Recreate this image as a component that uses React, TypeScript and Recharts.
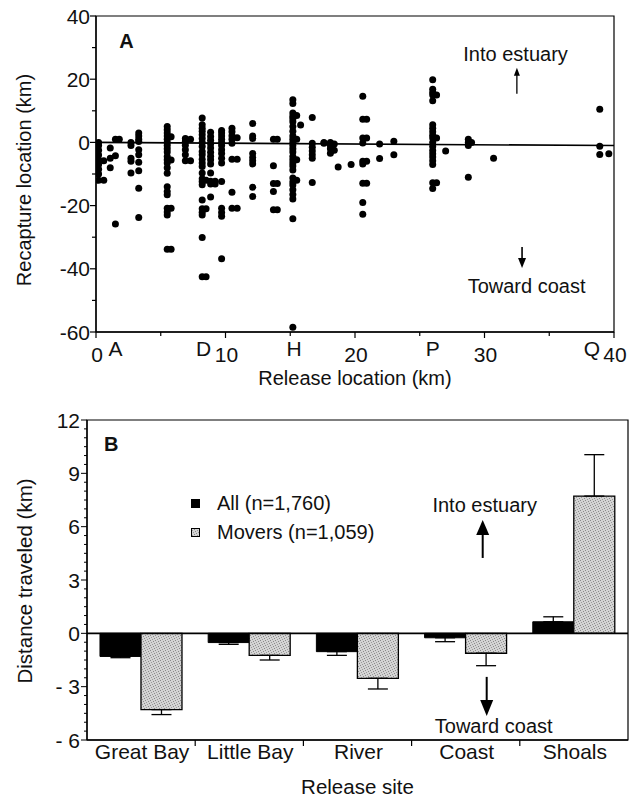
import React from 'react';
import {
  ScatterChart, Scatter, XAxis, YAxis, ReferenceLine, ReferenceArea, ReferenceDot,
  BarChart, Bar, ErrorBar, Legend,
} from 'recharts';

const FONT = '"Liberation Sans", Arial, Helvetica, sans-serif';
const INK = '#111';

// ---------- Panel A data ----------
const releaseKm = [
  0.2, 0.6, 1.1, 1.5, 1.8, 2.7, 3.3, 5.5, 5.8, 6.9, 7.3, 8.2, 8.5, 8.85, 9.2, 9.7, 10.5, 10.9,
  12.1, 13.7, 14.0, 15.2, 15.5, 15.8, 16.7, 17.6, 18.1, 18.4, 18.7, 19.7, 20.6, 20.9, 21.9, 23.0,
  26.0, 26.3, 27.0, 28.75, 29.0, 30.7, 38.9, 39.6,
];
const recaptureKm: number[][] = [
  [0, -1, -2.5, -4, -5.5, -7, -8.5, -10, -12],
  [-5.8, -12],
  [-1.8, -5, -8],
  [1, -4.2, -25.8],
  [1],
  [0, -1, -5, -6, -9.7],
  [3, 2, 1, 0.3, -2.3, -3.9, -6.3, -9, -14.5, -23.8],
  [5, 4, 3, 2, 1, 0, -1, -2, -3, -4.5, -5.5, -6.5, -8, -9.8, -14, -15.5, -16.6, -20.8, -22, -23, -33.8],
  [1.8, -5.6, -20.8, -33.8],
  [1.2, 0.3, -0.9, -2.3, -3.9, -5.8],
  [1, -5.8],
  [7.7, 5.6, 4.5, 3.5, 2.4, 1.2, 0, -1.3, -2.9, -3.9, -5.3, -6.5, -7.6, -9.7, -11.5, -12.4, -13.4, -18.2, -21, -22.1, -23, -30.1, -42.5],
  [-12, -21, -42.5],
  [3.2, 1.9, 0.7, -0.5, -1.8, -3.1, -4.4, -5.5, -6.8, -9.7, -12.3, -13.2, -17.3],
  [-12.3, -13.2],
  [3.8, 3, 2, 1, 0, -1, -2.3, -3.5, -5, -6.5, -12.4, -20.8, -22.2, -23.4, -36.8],
  [4.5, 3.4, 2.1, 1, -0.3, -5.3, -15.8, -20.8],
  [1.5, -5.3, -20.8],
  [6, 2, 1.2, -3.5, -4.8, -5.8, -6.8, -14.2, -17.1],
  [1, -7.4, -13, -15.5, -21.3],
  [1, -13, -21.3],
  [13.5, 12.3, 9.3, 8.3, 7.5, 6.5, 5, 3.5, 2, 1, 0, -1, -2, -3, -4.5, -5.5, -6.5, -7.5, -8.7, -11.3, -12.5, -13.5, -15, -16.5, -17.9, -24.2, -58.5],
  [8.5, 1, -5.5, -12],
  [5.5],
  [7.9, -0.3, -1.5, -2.7, -3.9, -5, -12.7],
  [0, -0.3],
  [0, -1, -2, -3.4],
  [-0.5, -2.5],
  [-7.8],
  [-7],
  [14.6, 7.3, 1.4, -0.2, -6, -6.8, -12.9, -19, -22.7],
  [7.3, 1.4, -6, -12.9],
  [-0.5, -5.1],
  [0.4, -3.9],
  [19.8, 16.8, 15.8, 15, 13.2, 5.6, 4.5, 3.4, 2.3, 1.4, 0, -1.3, -2.6, -3.6, -4.6, -5.8, -7, -12.8, -14.6],
  [15, 1.4, -12.8],
  [-2.7],
  [1, 0, -1, -11],
  [0],
  [-5],
  [10.5, -1.2, -3.8],
  [-3.6],
];
const xNumberTicks = [0, 10, 20, 30, 40];
const xMinorTicks = [5, 15, 25, 35];
const siteLetters = ['A', 'D', 'H', 'P', 'Q'];
const siteLetterKm = [1.5, 8.3, 15.3, 26, 38.3];
const yTicksA = [-60, -50, -40, -30, -20, -10, 0, 10, 20, 30, 40];

// ---------- Panel B data ----------
const sites = ['Great Bay', 'Little Bay', 'River', 'Coast', 'Shoals'];
const allMean = [-1.3, -0.52, -1.03, -0.25, 0.65];
const allErr = [0.07, 0.1, 0.21, 0.22, 0.28];
const moverMean = [-4.29, -1.24, -2.53, -1.12, 7.72];
const moverErr = [0.28, 0.26, 0.6, 0.7, 2.33];
const yTicksB: number[] = [];
for (let v = -6; v <= 12; v += 0.5) yTicksB.push(v);

const pointsA = releaseKm.flatMap((km, i) => recaptureKm[i].map((r) => ({ x: km, y: r })));
const xTicksA = [...xNumberTicks, ...xMinorTicks, ...siteLetterKm].sort((a, b) => a - b);
const barData = sites.map((s, i) => ({
  site: s,
  all: allMean[i],
  allErr: allErr[i],
  movers: moverMean[i],
  moverErr: moverErr[i],
}));

const txt = { fontFamily: FONT, fill: INK } as const;
const TICK_FS = 21;

function XTickA(props: any) {
  const { x, y, payload } = props;
  const v = payload.value;
  const li = siteLetterKm.indexOf(v);
  if (li >= 0) {
    return (
      <text x={x} y={y + 24} textAnchor="middle" fontSize={TICK_FS} {...txt}>{siteLetters[li]}</text>
    );
  }
  const major = xNumberTicks.includes(v);
  return (
    <g>
      <line x1={x} x2={x} y1={y} y2={y + (major ? 6 : 4)} stroke="#000" strokeWidth={1.2} />
      {major && (
        <text x={x + 1} y={y + 30} textAnchor="middle" fontSize={TICK_FS} {...txt}>{v}</text>
      )}
    </g>
  );
}

function YTickA(props: any) {
  const { x, y, payload } = props;
  const v = payload.value;
  const major = v % 20 === 0;
  return (
    <g>
      <line x1={x - (major ? 6 : 4)} x2={x} y1={y} y2={y} stroke="#000" strokeWidth={1.2} />
      {major && (
        <text x={x - 6} y={y} dy="0.36em" textAnchor="end" fontSize={TICK_FS} {...txt}>{v}</text>
      )}
    </g>
  );
}

function XTickB(props: any) {
  const { x, y, payload, index } = props;
  const half = payload && typeof payload.offset === 'number' && payload.offset > 0 ? payload.offset : 54;
  return (
    <g>
      {index > 0 && (
        <line x1={x - half} x2={x - half} y1={y} y2={y + 6} stroke="#000" strokeWidth={1.2} />
      )}
      <text x={x + 1} y={y + 19} textAnchor="middle" fontSize={TICK_FS} {...txt}>{payload.value}</text>
    </g>
  );
}

function YTickB(props: any) {
  const { x, y, payload } = props;
  const v = payload.value;
  const major = Math.abs(v % 3) < 1e-9;
  const label = v < 0 ? `- ${-v}` : `${v}`;
  return (
    <g>
      <line x1={x - (major ? 6 : 3)} x2={x} y1={y} y2={y} stroke="#000" strokeWidth={1} />
      {major && (
        <text x={x - 7} y={y} dy="0.36em" textAnchor="end" fontSize={TICK_FS} {...txt}>{label}</text>
      )}
    </g>
  );
}

const dot = (p: any) => <circle cx={p.cx} cy={p.cy} r={3.5} fill="#000" />;

const textShape = (s: string, opts: { dx?: number; anchor?: string; size?: number; bold?: boolean }) =>
  (p: any) => (
    <text
      x={p.cx + (opts.dx || 0)}
      y={p.cy}
      textAnchor={opts.anchor || 'middle'}
      fontSize={opts.size || 20}
      fontWeight={opts.bold ? 'bold' : 'normal'}
      {...txt}
    >
      {s}
    </text>
  );

const arrowShape = (dir: 'up' | 'down', len: number, headW: number, headH: number, sw: number, dx = 0) =>
  (p: any) => {
    const x = p.cx + dx;
    const y = p.cy;
    if (dir === 'up') {
      const top = y - len;
      return (
        <g>
          <line x1={x} x2={x} y1={y} y2={top + headH - 1} stroke="#000" strokeWidth={sw} />
          <polygon points={`${x},${top} ${x - headW / 2},${top + headH} ${x + headW / 2},${top + headH}`} fill="#000" />
        </g>
      );
    }
    const bottom = y + len;
    return (
      <g>
        <line x1={x} x2={x} y1={y} y2={bottom - headH + 1} stroke="#000" strokeWidth={sw} />
        <polygon points={`${x},${bottom} ${x - headW / 2},${bottom - headH} ${x + headW / 2},${bottom - headH}`} fill="#000" />
      </g>
    );
  };

function PanelA() {
  return (
    <ScatterChart width={629} height={400} margin={{ top: 16, right: 15, bottom: 8, left: 56 }}>
      <XAxis
        type="number"
        dataKey="x"
        domain={[0, 40]}
        ticks={xTicksA}
        interval={0}
        tick={XTickA}
        tickLine={false}
        tickSize={0}
        tickMargin={0}
        height={60}
        axisLine={{ stroke: '#000', strokeWidth: 1.3 }}
        allowDataOverflow
        label={(p: any) => {
          const vb = p.viewBox;
          return (
            <text x={vb.x + vb.width / 2} y={vb.y + 53} textAnchor="middle" fontSize={20} {...txt}>
              Release location (km)
            </text>
          );
        }}
      />
      <YAxis
        type="number"
        dataKey="y"
        domain={[-60, 40]}
        ticks={yTicksA}
        interval={0}
        tick={YTickA}
        tickLine={false}
        tickSize={0}
        tickMargin={0}
        width={40}
        axisLine={{ stroke: '#000', strokeWidth: 1.3 }}
        allowDataOverflow
        label={(p: any) => {
          const vb = p.viewBox;
          const cx = vb.x - 25;
          const cy = vb.y + vb.height / 2 + 6;
          return (
            <text x={cx} y={cy} transform={`rotate(-90, ${cx}, ${cy})`} textAnchor="middle" fontSize={20} {...txt}>
              Recapture location (km)
            </text>
          );
        }}
      />
      <ReferenceArea y1={-60} y2={40} fill="none" stroke="#000" strokeWidth={1.2} />
      <ReferenceLine segment={[{ x: 0, y: 0 }, { x: 40, y: -1 }]} stroke="#000" strokeWidth={1.6} />
      <Scatter data={pointsA} fill="#000" isAnimationActive={false} shape={dot} />
      <ReferenceDot x={1.8} y={29.9} r={0} shape={textShape('A', { anchor: 'start', size: 20, bold: true })} />
      <ReferenceDot x={32.4} y={25.7} r={0} shape={textShape('Into estuary', {})} />
      <ReferenceDot x={32.5} y={15.4} r={0} shape={arrowShape('up', 26, 6, 8, 1.3)} />
      <ReferenceDot x={32.9} y={-33.1} r={0} shape={arrowShape('down', 21, 8, 10, 1.6)} />
      <ReferenceDot x={33.25} y={-47.6} r={0} shape={textShape('Toward coast', {})} />
    </ScatterChart>
  );
}

const errAll = (d: any) => (d.all < 0 ? [d.allErr, 0] : [0, d.allErr]);
const errMovers = (d: any) => (d.movers < 0 ? [d.moverErr, 0] : [0, d.moverErr]);

function LegendBox() {
  const row = { display: 'flex', alignItems: 'center', height: 29 } as const;
  return (
    <div style={{ fontFamily: FONT, fontSize: 20, color: INK, lineHeight: '29px' }}>
      <div style={row}>
        <span style={{ display: 'inline-block', width: 9, height: 9, background: '#000', marginRight: 17 }} />
        <span>All (n=1,760)</span>
      </div>
      <div style={row}>
        <svg width={9} height={9} style={{ marginRight: 17 }}>
          <rect x={0.5} y={0.5} width={8} height={8} fill="url(#stipple)" stroke="#000" strokeWidth={1} />
        </svg>
        <span>Movers (n=1,059)</span>
      </div>
    </div>
  );
}

function PanelB() {
  return (
    <BarChart
      width={629}
      height={414}
      data={barData}
      margin={{ top: 35, right: 1, bottom: 4, left: 47 }}
      barGap={0}
      barCategoryGap="12%"
    >
      <XAxis
        dataKey="site"
        tick={XTickB}
        tickLine={false}
        tickSize={0}
        tickMargin={0}
        interval={0}
        height={55}
        axisLine={{ stroke: '#000', strokeWidth: 1.3 }}
        label={(p: any) => {
          const vb = p.viewBox;
          return (
            <text x={vb.x + vb.width / 2} y={vb.y + 54} textAnchor="middle" fontSize={20.5} {...txt}>
              Release site
            </text>
          );
        }}
      />
      <YAxis
        type="number"
        domain={[-6, 12]}
        ticks={yTicksB}
        interval={0}
        tick={YTickB}
        tickLine={false}
        tickSize={0}
        tickMargin={0}
        width={40}
        allowDataOverflow
        axisLine={{ stroke: '#000', strokeWidth: 1.3 }}
        label={(p: any) => {
          const vb = p.viewBox;
          const cx = vb.x - 15;
          const cy = vb.y + vb.height / 2 + 1;
          return (
            <text x={cx} y={cy} transform={`rotate(-90, ${cx}, ${cy})`} textAnchor="middle" fontSize={20.5} {...txt}>
              Distance traveled (km)
            </text>
          );
        }}
      />
      <ReferenceArea y1={-6} y2={12} fill="none" stroke="#000" strokeWidth={1.2} />
      <Bar dataKey="all" fill="#000" stroke="#000" strokeWidth={1} isAnimationActive={false}>
        <ErrorBar dataKey={errAll} width={10} stroke="#000" strokeWidth={1.3} direction="y" />
      </Bar>
      <Bar dataKey="movers" fill="url(#stipple)" stroke="#000" strokeWidth={1.3} isAnimationActive={false}>
        <ErrorBar dataKey={errMovers} width={10} stroke="#000" strokeWidth={1.3} direction="y" />
      </Bar>
      <ReferenceLine y={0} stroke="#000" strokeWidth={1.6} />
      <Legend
        layout="vertical"
        align="center"
        verticalAlign="middle"
        wrapperStyle={{ left: 191, top: 104, width: 200, height: 58 }}
        content={() => <LegendBox />}
      />
      <ReferenceDot x="Great Bay" y={10.25} r={0} shape={textShape('B', { anchor: 'start', size: 20, bold: true, dx: -37 })} />
      <ReferenceDot x="Coast" y={6.82} r={0} shape={textShape('Into estuary', { dx: 19 })} />
      <ReferenceDot x="Coast" y={4.24} r={0} shape={arrowShape('up', 38, 13, 15, 2, 17)} />
      <ReferenceDot x="Coast" y={-2.45} r={0} shape={arrowShape('down', 39, 13, 16, 2, 21)} />
      <ReferenceDot x="Coast" y={-5.6} r={0} shape={textShape('Toward coast', { dx: 28 })} />
    </BarChart>
  );
}

export default function App() {
  return (
    <div style={{ position: 'absolute', left: 0, top: 0, width: 629, height: 799, background: '#fff' }}>
      <svg width={0} height={0} style={{ position: 'absolute' }}>
        <defs>
          <pattern id="stipple" width={5} height={5} patternUnits="userSpaceOnUse">
            <rect width={5} height={5} fill="#d4d4d4" />
            <rect x={0} y={0} width={1} height={1} fill="#8a8a8a" />
            <rect x={3} y={1} width={1} height={1} fill="#8a8a8a" />
            <rect x={1} y={2} width={1} height={1} fill="#9a9a9a" />
            <rect x={4} y={3} width={1} height={1} fill="#8a8a8a" />
            <rect x={2} y={4} width={1} height={1} fill="#9a9a9a" />
          </pattern>
        </defs>
      </svg>
      <div style={{ position: 'absolute', left: 0, top: 0 }}>
        <PanelA />
      </div>
      <div style={{ position: 'absolute', left: 0, top: 385 }}>
        <PanelB />
      </div>
    </div>
  );
}
